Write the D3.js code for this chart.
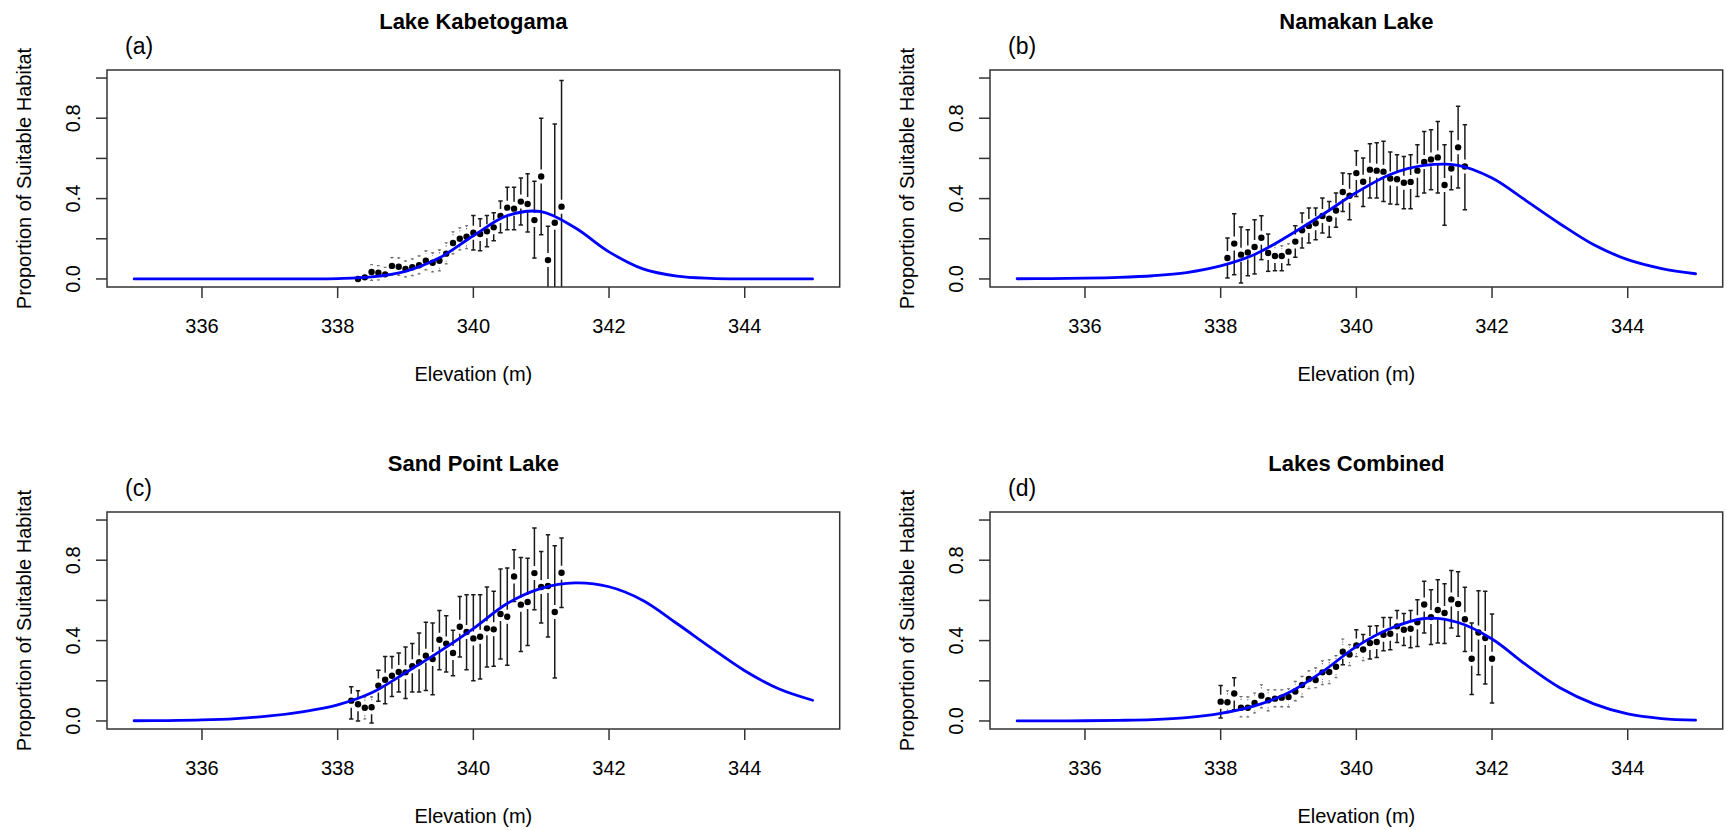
<!DOCTYPE html>
<html><head><meta charset="utf-8">
<script src="https://cdn.jsdelivr.net/npm/d3@7"></script>
<style>
body{margin:0;background:#fff}
svg{display:block}
text{font-family:"Liberation Sans",Arial,Helvetica,sans-serif;fill:#000}
</style>
</head><body>
<svg id="chart" width="1726" height="830"></svg>
<script>
// ---------- data ----------
const panelTitles = ["Lake Kabetogama", "Namakan Lake", "Sand Point Lake", "Lakes Combined"];
const panelLetters = ["(a)", "(b)", "(c)", "(d)"];
const xLabel = "Elevation (m)";
const yLabel = "Proportion of Suitable Habitat";
const xTicks = [336, 338, 340, 342, 344];
const yTicks = [0, 0.2, 0.4, 0.6, 0.8, 1.0];
const yTickLabels = ["0.0", "", "0.4", "", "0.8", ""];

// fitted curve, read at 0.5 m steps
const fitElev = [335, 335.5, 336, 336.5, 337, 337.5, 338, 338.5, 339, 339.5, 340, 340.5, 341, 341.5, 342, 342.5, 343, 343.5, 344, 344.5, 345];
const fitKabetogama = [0, 0, 0, 0, 0, 0.0005, 0.002, 0.010, 0.038, 0.105, 0.215, 0.315, 0.335, 0.255, 0.135, 0.050, 0.014, 0.003, 0.0005, 0, 0];
const fitNamakan = [0.001, 0.002, 0.004, 0.008, 0.016, 0.032, 0.065, 0.122, 0.215, 0.320, 0.430, 0.520, 0.565, 0.565, 0.502, 0.390, 0.275, 0.170, 0.096, 0.052, 0.026];
const fitSandPoint = [0.001, 0.002, 0.005, 0.012, 0.025, 0.047, 0.080, 0.140, 0.240, 0.345, 0.460, 0.585, 0.660, 0.687, 0.668, 0.600, 0.485, 0.365, 0.250, 0.160, 0.103];
const fitCombined = [0, 0.0005, 0.001, 0.003, 0.007, 0.017, 0.038, 0.075, 0.140, 0.245, 0.370, 0.460, 0.510, 0.490, 0.408, 0.280, 0.165, 0.085, 0.035, 0.012, 0.004];

// observed proportions with intervals
const elevKabetogama = [338.3, 338.4, 338.5, 338.6, 338.7, 338.8, 338.9, 339.0, 339.1, 339.2, 339.3, 339.4, 339.5, 339.6, 339.7, 339.8, 339.9, 340.0, 340.1, 340.2, 340.3, 340.4, 340.5, 340.6, 340.7, 340.8, 340.9, 341.0, 341.1, 341.2, 341.3];
const propKabetogama = [0.000, 0.008, 0.035, 0.031, 0.023, 0.065, 0.061, 0.050, 0.058, 0.068, 0.091, 0.081, 0.091, 0.126, 0.179, 0.200, 0.210, 0.230, 0.224, 0.237, 0.257, 0.313, 0.355, 0.350, 0.385, 0.373, 0.293, 0.510, 0.094, 0.280, 0.360];
const upperKabetogama = [0.030, 0.040, 0.071, 0.066, 0.058, 0.107, 0.105, 0.090, 0.100, 0.115, 0.140, 0.130, 0.145, 0.180, 0.235, 0.255, 0.265, 0.316, 0.300, 0.316, 0.330, 0.388, 0.456, 0.456, 0.502, 0.524, 0.486, 0.800, 0.262, 0.771, 0.988];
const lowerKabetogama = [-0.025, -0.020, -0.007, -0.005, -0.010, 0.020, 0.018, 0.010, 0.016, 0.025, 0.045, 0.035, 0.040, 0.075, 0.125, 0.145, 0.150, 0.144, 0.140, 0.160, 0.190, 0.230, 0.245, 0.245, 0.269, 0.234, 0.104, 0.220, -0.050, -0.050, -0.050];

const elevNamakan = [338.1, 338.2, 338.3, 338.4, 338.5, 338.6, 338.7, 338.8, 338.9, 339.0, 339.1, 339.2, 339.3, 339.4, 339.5, 339.6, 339.7, 339.8, 339.9, 340.0, 340.1, 340.2, 340.3, 340.4, 340.5, 340.6, 340.7, 340.8, 340.9, 341.0, 341.1, 341.2, 341.3, 341.4, 341.5, 341.6];
const propNamakan = [0.104, 0.176, 0.121, 0.132, 0.159, 0.205, 0.129, 0.114, 0.114, 0.136, 0.186, 0.242, 0.264, 0.277, 0.313, 0.300, 0.341, 0.433, 0.414, 0.527, 0.484, 0.544, 0.539, 0.534, 0.500, 0.496, 0.479, 0.483, 0.539, 0.582, 0.595, 0.605, 0.468, 0.550, 0.655, 0.560];
const upperNamakan = [0.204, 0.325, 0.259, 0.245, 0.295, 0.315, 0.224, 0.171, 0.165, 0.175, 0.265, 0.328, 0.353, 0.353, 0.403, 0.386, 0.428, 0.527, 0.524, 0.638, 0.602, 0.673, 0.678, 0.685, 0.632, 0.618, 0.610, 0.618, 0.668, 0.734, 0.743, 0.784, 0.668, 0.734, 0.859, 0.768];
const lowerNamakan = [0.005, 0.021, -0.020, 0.016, 0.025, 0.096, 0.038, 0.041, 0.041, 0.071, 0.108, 0.154, 0.179, 0.195, 0.229, 0.207, 0.257, 0.336, 0.295, 0.411, 0.361, 0.403, 0.403, 0.386, 0.373, 0.370, 0.350, 0.350, 0.411, 0.428, 0.444, 0.428, 0.267, 0.444, 0.453, 0.345];

const elevSandPoint = [338.2, 338.3, 338.4, 338.5, 338.6, 338.7, 338.8, 338.9, 339.0, 339.1, 339.2, 339.3, 339.4, 339.5, 339.6, 339.7, 339.8, 339.9, 340.0, 340.1, 340.2, 340.3, 340.4, 340.5, 340.6, 340.7, 340.8, 340.9, 341.0, 341.1, 341.2, 341.3];
const propSandPoint = [0.101, 0.083, 0.066, 0.068, 0.176, 0.205, 0.225, 0.244, 0.242, 0.272, 0.292, 0.325, 0.308, 0.404, 0.385, 0.338, 0.469, 0.443, 0.411, 0.419, 0.461, 0.456, 0.532, 0.519, 0.719, 0.579, 0.592, 0.736, 0.667, 0.672, 0.542, 0.738];
const upperSandPoint = [0.170, 0.150, 0.119, 0.120, 0.252, 0.321, 0.321, 0.338, 0.368, 0.385, 0.438, 0.491, 0.488, 0.550, 0.524, 0.451, 0.620, 0.628, 0.628, 0.628, 0.667, 0.645, 0.756, 0.761, 0.852, 0.814, 0.810, 0.960, 0.844, 0.927, 0.872, 0.910];
const lowerSandPoint = [0.010, 0.000, 0.010, -0.010, 0.098, 0.086, 0.122, 0.144, 0.112, 0.144, 0.144, 0.152, 0.131, 0.255, 0.244, 0.225, 0.318, 0.255, 0.200, 0.209, 0.269, 0.272, 0.308, 0.277, 0.595, 0.346, 0.376, 0.554, 0.488, 0.418, 0.214, 0.565];

const elevCombined = [338.0, 338.1, 338.2, 338.3, 338.4, 338.5, 338.6, 338.7, 338.8, 338.9, 339.0, 339.1, 339.2, 339.3, 339.4, 339.5, 339.6, 339.7, 339.8, 339.9, 340.0, 340.1, 340.2, 340.3, 340.4, 340.5, 340.6, 340.7, 340.8, 340.9, 341.0, 341.1, 341.2, 341.3, 341.4, 341.5, 341.6, 341.7, 341.8, 341.9, 342.0];
const propCombined = [0.096, 0.093, 0.137, 0.066, 0.066, 0.090, 0.126, 0.103, 0.111, 0.116, 0.119, 0.147, 0.179, 0.209, 0.204, 0.242, 0.244, 0.270, 0.345, 0.331, 0.376, 0.356, 0.388, 0.393, 0.429, 0.434, 0.471, 0.454, 0.459, 0.491, 0.580, 0.517, 0.552, 0.537, 0.605, 0.582, 0.506, 0.310, 0.440, 0.413, 0.310];
const upperCombined = [0.176, 0.150, 0.215, 0.122, 0.120, 0.139, 0.180, 0.155, 0.155, 0.155, 0.160, 0.197, 0.222, 0.250, 0.264, 0.300, 0.305, 0.325, 0.408, 0.380, 0.454, 0.430, 0.471, 0.474, 0.515, 0.515, 0.550, 0.535, 0.550, 0.603, 0.695, 0.653, 0.703, 0.683, 0.749, 0.743, 0.665, 0.488, 0.648, 0.646, 0.532];
const lowerCombined = [0.015, 0.040, 0.056, 0.020, 0.020, 0.040, 0.065, 0.050, 0.070, 0.070, 0.070, 0.100, 0.120, 0.160, 0.165, 0.180, 0.185, 0.215, 0.280, 0.275, 0.320, 0.300, 0.308, 0.316, 0.350, 0.355, 0.390, 0.375, 0.365, 0.370, 0.438, 0.380, 0.388, 0.385, 0.463, 0.421, 0.346, 0.132, 0.230, 0.184, 0.090];

const panels = [
  {fit: fitKabetogama, elev: elevKabetogama, prop: propKabetogama, up: upperKabetogama, lo: lowerKabetogama},
  {fit: fitNamakan, elev: elevNamakan, prop: propNamakan, up: upperNamakan, lo: lowerNamakan},
  {fit: fitSandPoint, elev: elevSandPoint, prop: propSandPoint, up: upperSandPoint, lo: lowerSandPoint},
  {fit: fitCombined, elev: elevCombined, prop: propCombined, up: upperCombined, lo: lowerCombined}
];

// ---------- layout ----------
const svg = d3.select("#chart");
const plotW = 732.7, plotH = 217;
const origins = [[107, 70], [990, 70], [107, 512], [990, 512]];
const tickLen = 11;
const gap = 7;      // gap around points in error bars (px)
const axisColor = "#333";

panels.forEach((p, i) => {
  const [ox, oy] = origins[i];
  const g = svg.append("g").attr("transform", `translate(${ox},${oy})`);
  const x = d3.scaleLinear().domain([334.6, 345.4]).range([0, plotW]);
  const y = d3.scaleLinear().domain([-0.04, 1.04]).range([plotH, 0]);

  const clipId = "clip" + i;
  svg.append("defs").append("clipPath").attr("id", clipId)
    .append("rect").attr("x", 0).attr("y", 0).attr("width", plotW).attr("height", plotH);

  const plot = g.append("g").attr("clip-path", `url(#${clipId})`);

  // error bars (short ones render faint, like the thin dotted marks of the original)
  const bars = plot.append("g").attr("fill", "none");
  function seg(px, yEnd, yStart) {
    const len = Math.abs(yEnd - yStart);
    const shortBar = len < 6;
    const col = shortBar ? "#666" : "#1a1a1a";
    const w = shortBar ? 1.1 : 1.5;
    const cw = shortBar ? 1.5 : 2.2;
    bars.append("line").attr("x1", px).attr("x2", px).attr("y1", yEnd).attr("y2", yStart)
      .attr("stroke", col).attr("stroke-width", w)
      .attr("stroke-dasharray", shortBar ? "1.2,1.2" : null);
    bars.append("line").attr("x1", px - cw).attr("x2", px + cw).attr("y1", yEnd).attr("y2", yEnd)
      .attr("stroke", col).attr("stroke-width", w);
  }
  p.elev.forEach((e, j) => {
    const px = x(e), py = y(p.prop[j]), ph = y(p.up[j]), pl = y(p.lo[j]);
    if (py - ph > gap) seg(px, ph, py - gap);
    if (pl - py > gap) seg(px, pl, py + gap);
  });

  // points
  plot.append("g").selectAll("circle").data(p.elev).join("circle")
    .attr("cx", d => x(d)).attr("cy", (d, j) => y(p.prop[j])).attr("r", 3.2).attr("fill", "#000");

  // fitted curve
  const line = d3.line().x(d => x(d[0])).y(d => y(d[1])).curve(d3.curveCatmullRom.alpha(0.5));
  plot.append("path").datum(fitElev.map((e, j) => [e, p.fit[j]]))
    .attr("d", line).attr("fill", "none").attr("stroke", "#0000ff").attr("stroke-width", 2.8)
    .attr("stroke-linecap", "round");

  // box
  g.append("rect").attr("x", 0).attr("y", 0).attr("width", plotW).attr("height", plotH)
    .attr("fill", "none").attr("stroke", axisColor).attr("stroke-width", 1.5);

  // x axis ticks
  xTicks.forEach(t => {
    g.append("line").attr("x1", x(t)).attr("x2", x(t)).attr("y1", plotH).attr("y2", plotH + tickLen)
      .attr("stroke", axisColor).attr("stroke-width", 1.5);
    g.append("text").attr("x", x(t)).attr("y", plotH + 46).attr("text-anchor", "middle")
      .attr("font-size", 20).text(t);
  });
  // y axis ticks
  yTicks.forEach((t, k) => {
    g.append("line").attr("x1", -tickLen).attr("x2", 0).attr("y1", y(t)).attr("y2", y(t))
      .attr("stroke", axisColor).attr("stroke-width", 1.5);
    if (yTickLabels[k]) {
      g.append("text").attr("transform", `translate(${-27},${y(t)}) rotate(-90)`)
        .attr("text-anchor", "middle").attr("font-size", 20).text(yTickLabels[k]);
    }
  });

  // axis titles
  g.append("text").attr("x", plotW / 2).attr("y", plotH + 94).attr("text-anchor", "middle")
    .attr("font-size", 20).text(xLabel);
  g.append("text").attr("transform", `translate(${-76.5},${plotH / 2}) rotate(-90)`)
    .attr("text-anchor", "middle").attr("font-size", 20).text(yLabel);

  // title and letter
  g.append("text").attr("x", plotW / 2).attr("y", -41).attr("text-anchor", "middle")
    .attr("font-size", 22).attr("font-weight", "bold").text(panelTitles[i]);
  g.append("text").attr("x", 18).attr("y", -16.5).attr("font-size", 23).text(panelLetters[i]);
});
</script>
</body></html>
